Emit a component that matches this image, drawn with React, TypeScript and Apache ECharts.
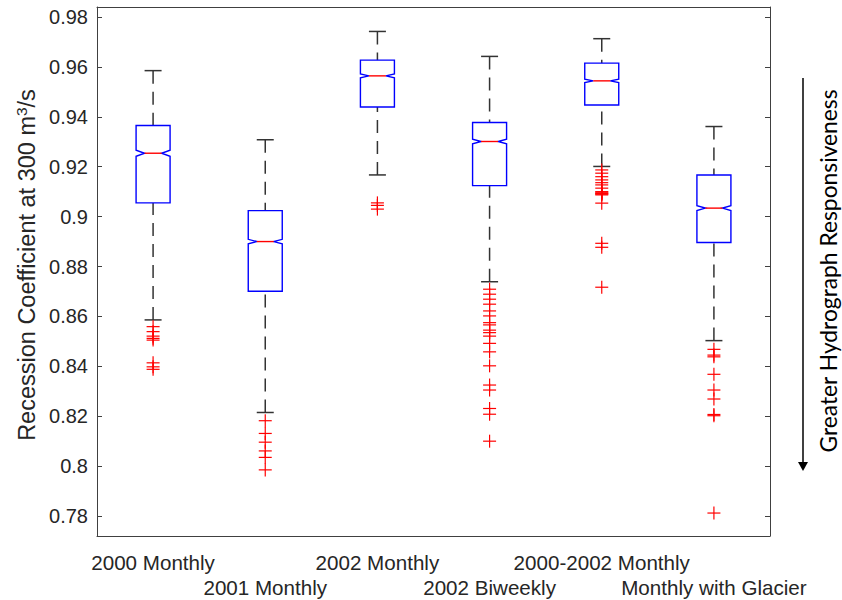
import React, { useEffect, useRef } from "react";
import * as echarts from "echarts";

const categories = [
  "2000 Monthly",
  "2001 Monthly",
  "2002 Monthly",
  "2002 Biweekly",
  "2000-2002 Monthly",
  "Monthly with Glacier",
];
const whiskerLow = [0.8586, 0.8215, 0.9167, 0.8739, 0.9201, 0.8503];
const q1 = [0.9055, 0.8701, 0.9439, 0.9124, 0.9447, 0.8896];
const median = [0.9254, 0.89, 0.9564, 0.9301, 0.9544, 0.9034];
const q3 = [0.9365, 0.9024, 0.9627, 0.9377, 0.9615, 0.9167];
const whiskerHigh = [0.9585, 0.9308, 0.9742, 0.9642, 0.9713, 0.9361];
const notchHalf = [0.0012, 0.0009, 0.0008, 0.0009, 0.0007, 0.001];

const outliers2000 = [0.8559, 0.8539, 0.8521, 0.8512, 0.8505, 0.8414, 0.8398, 0.8388];
const outliers2001 = [0.8182, 0.8131, 0.8096, 0.8061, 0.8035, 0.7985];
const outliers2002 = [0.9055, 0.9045, 0.903];
const outliersBiweekly = [
  0.8709, 0.8689, 0.8669, 0.8649, 0.8622, 0.8602, 0.8575, 0.8566, 0.8545, 0.8535,
  0.8521, 0.8492, 0.8458, 0.8402, 0.8325, 0.8305, 0.8231, 0.8208, 0.81,
];
const outliersAll = [
  0.9187, 0.9174, 0.916, 0.9147, 0.9136, 0.9127, 0.9114, 0.91, 0.9098, 0.9094,
  0.9092, 0.909, 0.9087, 0.9054, 0.8893, 0.8877, 0.8717,
];
const outliersGlacier = [0.8468, 0.8445, 0.8438, 0.8368, 0.8305, 0.8269, 0.8207, 0.8202, 0.7812];
const outlierGroups = [
  outliers2000,
  outliers2001,
  outliers2002,
  outliersBiweekly,
  outliersAll,
  outliersGlacier,
];

const yTicks = [0.78, 0.8, 0.82, 0.84, 0.86, 0.88, 0.9, 0.92, 0.94, 0.96, 0.98];

const AXIS_COLOR = "#404040";
const TEXT_COLOR = "#262626";
const FONT = "'Liberation Sans', Arial, Helvetica, sans-serif";

export default function App() {
  const ref = useRef<HTMLDivElement>(null);
  useEffect(() => {
    if (!ref.current) return;
    const chart = echarts.init(ref.current, null, { renderer: "svg" });

    const boxData = categories.map((_, i) => [
      i,
      whiskerLow[i],
      q1[i],
      median[i],
      q3[i],
      whiskerHigh[i],
      median[i] - notchHalf[i],
      median[i] + notchHalf[i],
    ]);
    const outlierData: number[][] = [];
    outlierGroups.forEach((g, i) => g.forEach((v) => outlierData.push([i, v])));

    const yAxisBase = {
      type: "value",
      min: 0.772,
      max: 0.984,
      splitLine: { show: false },
      axisLine: { show: true, lineStyle: { color: AXIS_COLOR, width: 1 } },
    };

    const option = {
      animation: false,
      grid: { left: 97, right: 72, top: 7, bottom: 64, containLabel: false },
      xAxis: [
        {
          type: "category",
          data: categories,
          position: "bottom",
          axisLine: { lineStyle: { color: AXIS_COLOR, width: 1 } },
          axisTick: { inside: true, alignWithLabel: true, length: 5, lineStyle: { color: AXIS_COLOR } },
          axisLabel: {
            interval: 0,
            margin: 14,
            fontSize: 20.6,
            lineHeight: 25,
            fontFamily: FONT,
            color: TEXT_COLOR,
            formatter: (v: string, idx: number) => (idx % 2 === 1 ? "\n" + v : v),
          },
        },
        {
          type: "category",
          data: categories,
          position: "top",
          axisLine: { lineStyle: { color: AXIS_COLOR, width: 1 } },
          axisTick: { inside: true, alignWithLabel: true, length: 5, lineStyle: { color: AXIS_COLOR } },
          axisLabel: { show: false },
        },
      ],
      yAxis: [
        {
          ...yAxisBase,
          position: "left",
          axisTick: { show: true, inside: true, length: 5, customValues: yTicks, lineStyle: { color: AXIS_COLOR } },
          axisLabel: {
            customValues: yTicks,
            margin: 9,
            fontSize: 20,
            fontFamily: FONT,
            color: TEXT_COLOR,
            formatter: (v: number) => String(Math.round(v * 100) / 100),
          },
        },
        {
          ...yAxisBase,
          position: "right",
          axisTick: { show: true, inside: true, length: 5, customValues: yTicks, lineStyle: { color: AXIS_COLOR } },
          axisLabel: { show: false },
        },
      ],
      series: [
        {
          type: "custom",
          xAxisIndex: 0,
          yAxisIndex: 0,
          data: boxData,
          renderItem: (params: any, api: any) => {
            const i = api.value(0);
            const wl = api.value(1);
            const lq = api.value(2);
            const md = api.value(3);
            const uq = api.value(4);
            const wh = api.value(5);
            const nl = api.value(6);
            const nh = api.value(7);
            const x = api.coord([i, md])[0];
            const y = (v: number) => api.coord([i, v])[1];
            const bw = 17;
            const nw = 8.5;
            const cw = 8.5;
            const whiskerStyle = { stroke: "#333333", lineWidth: 1.5, lineDash: [13, 8] };
            const capStyle = { stroke: "#333333", lineWidth: 1.5 };
            return {
              type: "group",
              children: [
                { type: "line", shape: { x1: x, y1: y(wh), x2: x, y2: y(uq) }, style: whiskerStyle },
                { type: "line", shape: { x1: x, y1: y(wl), x2: x, y2: y(lq) }, style: whiskerStyle },
                { type: "line", shape: { x1: x - cw, y1: y(wh), x2: x + cw, y2: y(wh) }, style: capStyle },
                { type: "line", shape: { x1: x - cw, y1: y(wl), x2: x + cw, y2: y(wl) }, style: capStyle },
                {
                  type: "polygon",
                  shape: {
                    points: [
                      [x - bw, y(uq)],
                      [x + bw, y(uq)],
                      [x + bw, y(nh)],
                      [x + nw, y(md)],
                      [x + bw, y(nl)],
                      [x + bw, y(lq)],
                      [x - bw, y(lq)],
                      [x - bw, y(nl)],
                      [x - nw, y(md)],
                      [x - bw, y(nh)],
                    ],
                  },
                  style: { fill: "#ffffff", stroke: "#0000ff", lineWidth: 1.4 },
                },
                {
                  type: "line",
                  shape: { x1: x - nw, y1: y(md), x2: x + nw, y2: y(md) },
                  style: { stroke: "#ff0000", lineWidth: 1.4 },
                },
              ],
            };
          },
        },
        {
          type: "custom",
          xAxisIndex: 0,
          yAxisIndex: 0,
          data: outlierData,
          renderItem: (params: any, api: any) => {
            const p = api.coord([api.value(0), api.value(1)]);
            const h = 6.5;
            const st = { stroke: "#ff0000", lineWidth: 1.2 };
            return {
              type: "group",
              children: [
                { type: "line", shape: { x1: p[0] - h, y1: p[1], x2: p[0] + h, y2: p[1] }, style: st },
                { type: "line", shape: { x1: p[0], y1: p[1] - h, x2: p[0], y2: p[1] + h }, style: st },
              ],
            };
          },
        },
      ],
      graphic: [
        {
          type: "text",
          x: 27,
          y: 265,
          rotation: Math.PI / 2,
          style: {
            text: "Recession Coefficient at 300 m{sup|3}/s",
            fontSize: 23.5,
            fontFamily: FONT,
            fill: TEXT_COLOR,
            align: "center",
            verticalAlign: "middle",
            textAlign: "center",
            textVerticalAlign: "middle",
            rich: {
              sup: { fontSize: 15.5, fontFamily: FONT, fill: TEXT_COLOR, verticalAlign: "top", padding: [0, 0, 11, 0] },
            },
          },
        },
        {
          type: "line",
          shape: { x1: 803, y1: 78, x2: 803, y2: 463 },
          style: { stroke: "#000000", lineWidth: 1.5 },
        },
        {
          type: "polygon",
          shape: { points: [[798, 462], [808, 462], [803, 471]] },
          style: { fill: "#000000" },
        },
        {
          type: "text",
          x: 828,
          y: 271,
          rotation: Math.PI / 2,
          style: {
            text: "Greater Hydrograph Responsiveness",
            fontSize: 22.8,
            fontFamily: "Lato, 'Open Sans', sans-serif",
            fill: "#000000",
            align: "center",
            verticalAlign: "middle",
            textAlign: "center",
            textVerticalAlign: "middle",
          },
        },
      ],
    };

    chart.setOption(option as any);
    return () => chart.dispose();
  }, []);

  return <div ref={ref} style={{ width: 842, height: 600, position: "absolute", left: 0, top: 0 }} />;
}
